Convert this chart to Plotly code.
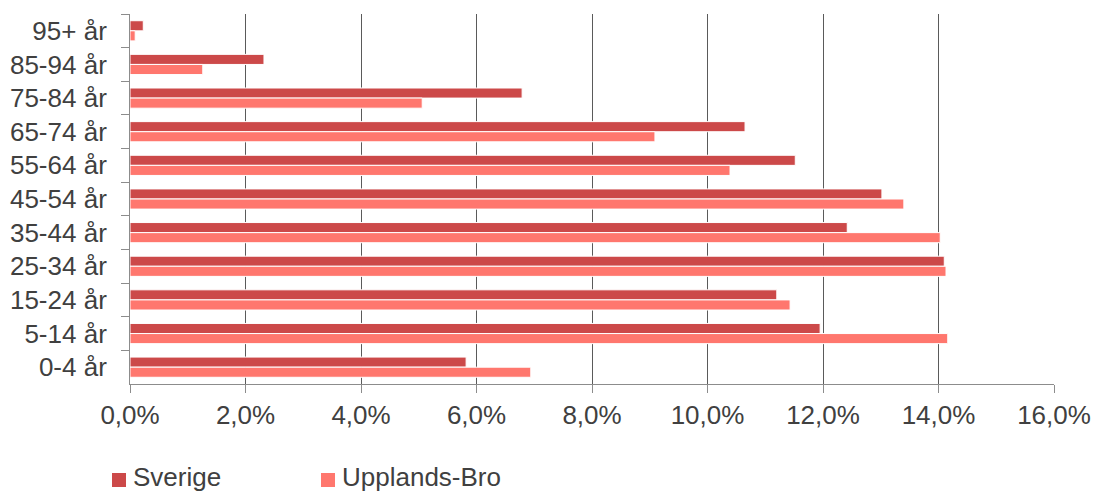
import plotly.graph_objects as go

# age groups, top to bottom as in the chart
age_groups = ['95+ år', '85-94 år', '75-84 år', '65-74 år', '55-64 år', '45-54 år',
              '35-44 år', '25-34 år', '15-24 år', '5-14 år', '0-4 år']

# share of population
sverige = [0.0023, 0.0232, 0.0679, 0.1065, 0.1152, 0.1302, 0.1242, 0.1410, 0.1120, 0.1195, 0.0582]
upplands_bro = [0.0009, 0.0126, 0.0506, 0.0909, 0.1039, 0.1340, 0.1403, 0.1413, 0.1143, 0.1416, 0.0694]

x_ticks = [0, 0.02, 0.04, 0.06, 0.08, 0.10, 0.12, 0.14, 0.16]

series_names = ['Sverige', 'Upplands-Bro']
series_colors = ['#CC4949', '#FF776E']

font_color = '#404040'
W, H = 1093, 491
ML, MR, MT, MB = 130, 39, 14, 107
plot_w = W - ML - MR
plot_h = H - MT - MB


def px_x(p):
    # page pixel -> paper x
    return (p - ML) / plot_w


def px_y(p):
    # page pixel -> paper y
    return (H - MB - p) / plot_h


fig = go.Figure()
for name, vals, col in zip(series_names, [sverige, upplands_bro], series_colors):
    fig.add_trace(go.Bar(
        y=age_groups, x=vals, name=name, orientation='h',
        marker=dict(color=col, line=dict(color='white', width=1)),
    ))

fig.update_layout(
    width=W, height=H,
    margin=dict(l=ML, r=MR, t=MT, b=MB),
    paper_bgcolor='white', plot_bgcolor='white',
    font=dict(family='Liberation Sans, Arial', size=26, color=font_color),
    barmode='group', bargap=0.4, bargroupgap=0,
    separators=', ',
    showlegend=False,
)

# legend drawn by hand so it sits where the original one does
legend_left = [112, 321]
for left, name, col in zip(legend_left, series_names, series_colors):
    fig.add_shape(type='rect', xref='paper', yref='paper',
                  x0=px_x(left), x1=px_x(left + 14), y0=px_y(487), y1=px_y(473),
                  fillcolor=col, line=dict(width=0))
    fig.add_annotation(text=name, xref='paper', yref='paper',
                       x=px_x(left + 19), y=px_y(477), xanchor='left', yanchor='middle',
                       showarrow=False, font=dict(size=26, color=font_color))

fig.update_xaxes(
    range=[0, 0.16], tickvals=x_ticks, tickformat='.1%',
    showgrid=True, gridcolor='#5a5a5a', gridwidth=1,
    showline=True, linecolor='#8c8c8c', linewidth=1,
    ticks='outside', ticklen=8, tickcolor='#8c8c8c',
    zeroline=False, automargin=False,
)
fig.update_yaxes(
    autorange='reversed', categoryorder='array', categoryarray=age_groups,
    showline=True, linecolor='#8c8c8c', linewidth=1,
    ticks='outside', ticklen=8, tickcolor='#8c8c8c', tickson='boundaries',
    ticklabelstandoff=17,
    showgrid=False, zeroline=False, automargin=False,
)

# drop the default body margin so the figure sits at the page corner
fig.write_html('out.html', config={'displayModeBar': False},
               post_script="document.body.style.margin='0';")
